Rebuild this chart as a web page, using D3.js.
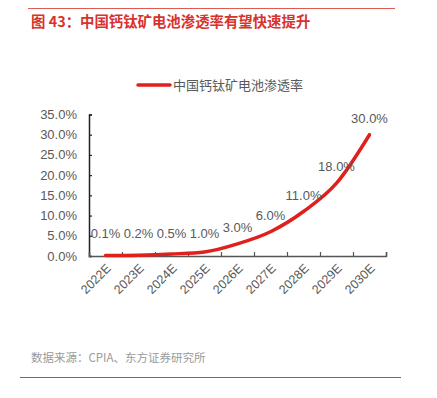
<!DOCTYPE html>
<html>
<head>
<meta charset="utf-8">
<script src="https://cdn.jsdelivr.net/npm/d3@7"></script>
<style>
  body { margin: 0; background: #fff; }
  svg text { font-family: "Liberation Sans", Arial, "Noto Sans CJK SC", sans-serif; }
</style>
</head>
<body>
<svg id="chart"></svg>
<script>
const years = ['2022E', '2023E', '2024E', '2025E', '2026E', '2027E', '2028E', '2029E', '2030E']
const penetration = [0.1, 0.2, 0.5, 1.0, 3.0, 6.0, 11.0, 18.0, 30.0]
const yTicks = [0, 5, 10, 15, 20, 25, 30, 35]
const titleText = '图 43：中国钙钛矿电池渗透率有望快速提升'
const legendText = '中国钙钛矿电池渗透率'
const sourceText = '数据来源：CPIA、东方证券研究所'

const W = 437, H = 398
const svg = d3.select('#chart').attr('width', W).attr('height', H)
const cjk = '"Noto Sans CJK SC", "Liberation Sans", sans-serif'
const red = '#e0201c'
const gray = '#595959'

// header + footer rules
svg.append('line').attr('x1', 28).attr('x2', 395).attr('y1', 8.5).attr('y2', 8.5)
  .attr('stroke', '#e05a55').attr('stroke-width', 1)
svg.append('text').attr('x', 31).attr('y', 27).text(titleText)
  .style('font-family', cjk).style('font-size', '14.4px').style('font-weight', 'bold')
  .attr('fill', '#d8322e')
svg.append('text').attr('x', 31).attr('y', 362).text(sourceText)
  .style('font-family', cjk).style('font-size', '11.5px').attr('fill', '#9a9a9a')
svg.append('line').attr('x1', 20).attr('x2', 401).attr('y1', 377.5).attr('y2', 377.5)
  .attr('stroke', '#d9403a').attr('stroke-width', 1)

// legend
svg.append('line').attr('x1', 138).attr('x2', 170).attr('y1', 85).attr('y2', 85)
  .attr('stroke', red).attr('stroke-width', 3.5).attr('stroke-linecap', 'round')
svg.append('text').attr('x', 173).attr('y', 90).text(legendText)
  .style('font-family', cjk).style('font-size', '13px').attr('fill', gray)

// scales
const x = d3.scaleBand().domain(years).range([89, 386])
const y = d3.scaleLinear().domain([0, 35]).range([256, 114.5])
const cx = d => x(d) + x.bandwidth() / 2

// y axis
const yAxis = svg.append('g').attr('transform', 'translate(89,0)')
  .call(d3.axisRight(y).tickValues(yTicks).tickSize(3).tickFormat(''))
yAxis.select('.domain').attr('stroke', '#222').attr('stroke-width', 1.5)
yAxis.selectAll('.tick line').attr('stroke', '#222').attr('stroke-width', 1.2)
svg.append('g').selectAll('text').data(yTicks).join('text')
  .attr('x', 77).attr('y', d => y(d) + 4.5).attr('text-anchor', 'end')
  .style('font-size', '13px').attr('fill', gray)
  .text(d => d.toFixed(1) + '%')

// x axis
const xAxis = svg.append('g').attr('transform', 'translate(0,256)')
  .call(d3.axisTop(d3.scaleLinear().domain([0, 9]).range([89, 386]))
    .tickValues(d3.range(0, 10)).tickSize(4).tickFormat(''))
xAxis.select('.domain').attr('stroke', '#555').attr('stroke-width', 1.5)
xAxis.selectAll('.tick line').attr('stroke', '#555').attr('stroke-width', 1.2)
svg.append('g').selectAll('text').data(years).join('text')
  .attr('transform', d => `translate(${cx(d) + 3},266) rotate(-45)`)
  .attr('text-anchor', 'end').attr('dy', '0.35em')
  .style('font-size', '12.5px').attr('fill', gray)
  .text(d => d)

// line
const line = d3.line().x((d, i) => cx(years[i])).y(d => y(d)).curve(d3.curveMonotoneX)
svg.append('path').datum(penetration).attr('d', line)
  .attr('fill', 'none').attr('stroke', red).attr('stroke-width', 3.5)
  .attr('stroke-linecap', 'round').attr('stroke-linejoin', 'round')

// data labels
svg.append('g').selectAll('text').data(penetration).join('text')
  .attr('x', (d, i) => cx(years[i]))
  .attr('y', d => Math.min(y(d), 250) - 12)
  .attr('text-anchor', 'middle')
  .style('font-size', '13px').attr('fill', gray)
  .text(d => d.toFixed(1) + '%')
</script>
</body>
</html>
